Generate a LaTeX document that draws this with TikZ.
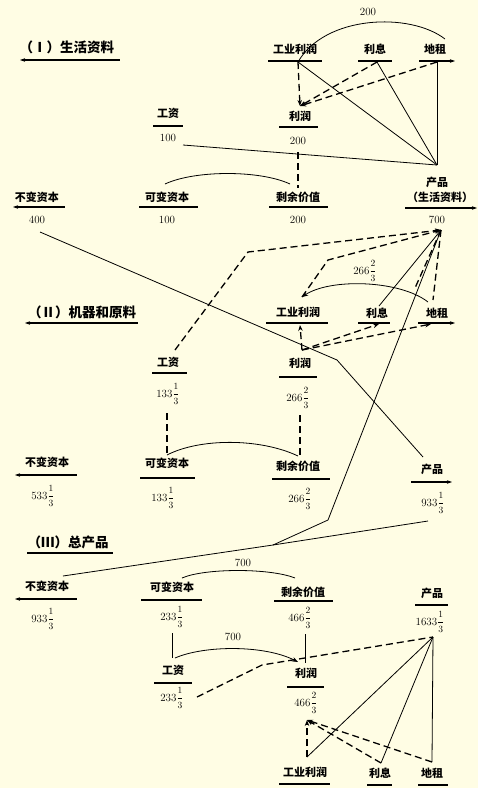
\documentclass[tikz,border=0pt]{standalone}
\usepackage{amsmath}
\usepackage{fontspec}
\newfontfamily\cjk{Noto Sans CJK SC}
\usetikzlibrary{arrows.meta}
\definecolor{paper}{RGB}{255,253,228}
\newcommand{\mixfr}[3]{#1$\genfrac{}{}{0.4pt}{0}{\text{\fontsize{9.5}{9.5}\selectfont #2}}{\text{\fontsize{9.5}{9.5}\selectfont #3}}$}

\begin{document}
\begin{tikzpicture}[x=1pt,y=-1pt,
    cn/.style={font=\cjk\bfseries\fontsize{11}{12}\selectfont,inner sep=1pt},
    num/.style={font=\fontsize{11}{12}\selectfont,inner sep=1pt},
    ttl/.style={font=\cjk\bfseries\fontsize{13.5}{15}\selectfont,inner sep=1pt},
    ul/.style={line width=1.4pt},
    ulleft/.style={ul,{Stealth[length=5pt,width=3.5pt]}-},
    ulright/.style={ul,-{Stealth[length=5pt,width=3.5pt]}},
    flow/.style={line width=0.8pt},
    dflow/.style={line width=1.3pt,dash pattern=on 7pt off 4pt},
    tip/.style={-{Stealth[length=6pt,width=4.5pt]}}]

  \fill[paper] (0,0) rectangle (478,788);
  \useasboundingbox (0,0) rectangle (478,788);

  % (I) 生活资料
  \node[ttl] (t1) at (67,47) {（Ⅰ）生活资料};
  \draw[ulleft] (20,60) -- (120,60);

  \node[cn] (Igew) at (295,49) {工业利润};
  \draw[ul] (268,61) -- (322,61);
  \node[cn] (Ilx) at (375,49) {利息};
  \draw[ul] (358,61) -- (392,61);
  \node[cn] (Idz) at (435,49) {地租};
  \draw[ulright] (419,61) -- (455,61);
  \node[num] (Iarc) at (368,12) {200};

  \node[cn] (Ilr) at (300,116) {利润};
  \draw[ul] (279,127) -- (318,127);
  \node[num] (Ilrv) at (298,141) {200};

  \node[cn] (Igz) at (168,113) {工资};
  \draw[ul] (153,126) -- (183,126);
  \node[num] (Igzv) at (168,138) {100};

  \node[cn] (Ibb) at (37,197) {不变资本};
  \draw[ulleft] (13,207) -- (65,207);
  \node[num] (Ibbv) at (37,220) {400};
  \node[cn] (Ikb) at (167,197) {可变资本};
  \draw[ul] (139,207) -- (198,207);
  \node[num] (Ikbv) at (167,220) {100};
  \node[cn] (Isy) at (298,197) {剩余价值};
  \draw[ul] (269,207) -- (328,207);
  \node[num] (Isyv) at (298,220) {200};
  \node[cn] (Icp) at (437,182) {产品};
  \node[cn] (Icp2) at (440,197) {（生活资料）};
  \draw[ulright] (405,208) -- (477,208);
  \node[num] (Icpv) at (437,220) {700};

  \coordinate (Ia) at (437,165);
  \coordinate (Igew-u) at (298,62);
  \coordinate (Ilx-u) at (377,62);
  \coordinate (Idz-u) at (437,62);
  \coordinate (Ilr-t) at (300,106);

  \draw[flow] (Igew-u) .. controls (325,15) and (410,12) .. (445,39);
  \draw[flow] (Ia) -- (Igew-u);
  \draw[flow] (Ia) -- (Ilx-u);
  \draw[flow] (Ia) -- (Idz-u);
  \draw[flow] (Ia) -- (183,145);
  \draw[dflow,tip] (Igew-u) -- (Ilr-t);
  \draw[dflow,tip] (Ilx-u) -- (Ilr-t);
  \draw[dflow,tip] (Idz-u) -- (Ilr-t);
  \draw[dflow] (298,152) -- (298,188);
  \draw[flow] (165,184) .. controls (195,170) and (260,170) .. (290,184);

  % (II) 机器和原料
  \node[ttl] (t2) at (82,312) {（Ⅱ）机器和原料};
  \draw[ulleft] (25,323) -- (138,323);

  \node[cn] (IIgew) at (298,312) {工业利润};
  \draw[ul] (266,323) -- (328,323);
  \node[cn] (IIlx) at (377,313) {利息};
  \draw[ul] (358,323) -- (390,323);
  \node[cn] (IIdz) at (437,313) {地租};
  \draw[ulright] (418,323) -- (455,323);
  \node[num] (IIarc) at (365,271) {\mixfr{266}{2}{3}};

  \node[cn] (IIgz) at (168,362) {工资};
  \draw[ul] (152,373) -- (187,373);
  \node[num] (IIgzv) at (168,394) {\mixfr{133}{1}{3}};
  \node[cn] (IIlr) at (300,363) {利润};
  \draw[ul] (279,377) -- (317,377);
  \node[num] (IIlrv) at (298,398) {\mixfr{266}{2}{3}};

  \node[cn] (IIbb) at (47,462) {不变资本};
  \draw[ulleft] (15,475) -- (77,475);
  \node[num] (IIbbv) at (43,496) {\mixfr{533}{1}{3}};
  \node[cn] (IIkb) at (167,463) {可变资本};
  \draw[ul] (140,478) -- (195,478);
  \node[num] (IIkbv) at (163,498) {\mixfr{133}{1}{3}};
  \node[cn] (IIsy) at (298,466) {剩余价值};
  \draw[ul] (272,479) -- (330,479);
  \node[num] (IIsyv) at (300,499) {\mixfr{266}{2}{3}};
  \node[cn] (IIcp) at (432,469) {产品};
  \draw[ulright] (411,482) -- (452,482);
  \node[num] (IIcpv) at (433,503) {\mixfr{933}{1}{3}};

  \coordinate (IIa) at (441,230);
  \coordinate (IIr) at (302,350);
  \coordinate (IIlx-t) at (379,306);
  \coordinate (IIdz-t) at (433,300);
  \coordinate (IIgew-t) at (302,297);
  \coordinate (IIstub) at (415,288);
  \coordinate (IIIjoin) at (273,545);

  \draw[dflow,tip] (175,350) -- (248,252) -- (IIa);
  \draw[dflow,tip] (IIgew-t) -- (328,260) -- (IIa);
  \draw[flow,tip] (428,302) .. controls (400,280) and (330,278) .. (IIgew-t);
  \draw[flow] (IIa) -- (IIlx-t);
  \draw[dflow] (IIa) -- (IIstub);
  \draw[dflow] (IIa) -- (IIdz-t);
  \draw[flow] (40,232) -- (337,360) -- (423,457);
  \draw[dflow,tip] (IIr) -- (300,325);
  \draw[dflow,tip] (IIr) -- (379,324);
  \draw[dflow,tip] (IIr) -- (431,324);
  \draw[flow] (IIa) -- (328,520) -- (IIIjoin);

  \draw[dflow] (167,413) -- (167,455);
  \draw[dflow] (300,415) -- (300,455);
  \draw[flow] (167,455) .. controls (200,438) and (260,438) .. (298,456);

  % (III) 总产品
  \node[ttl] (t3) at (68,542) {（Ⅲ）总产品};
  \draw[ul] (27,553) -- (113,553);
  \node[num] (IIIarc) at (243,563) {700};

  \draw[flow] (428,521) -- (IIIjoin) -- (63,576);
  \draw[flow] (182,578) .. controls (205,568) and (270,568) .. (295,578);

  \node[cn] (IIIbb) at (47,586) {不变资本};
  \draw[ulleft] (15,599) -- (77,599);
  \node[num] (IIIbbv) at (43,619) {\mixfr{933}{1}{3}};
  \node[cn] (IIIkb) at (172,587) {可变资本};
  \draw[ul] (141,600) -- (202,600);
  \node[num] (IIIkbv) at (172,617) {\mixfr{233}{1}{3}};
  \node[cn] (IIIsy) at (303,592) {剩余价值};
  \draw[ul] (274,601) -- (333,601);
  \node[num] (IIIsyv) at (300,618) {\mixfr{466}{2}{3}};
  \node[cn] (IIIcp) at (432,593) {产品};
  \draw[ul] (415,605) -- (448,605);
  \node[num] (IIIcpv) at (430,622) {\mixfr{1633}{1}{3}};

  \node[cn] (IIIgz) at (173,670) {工资};
  \draw[ul] (154,683) -- (192,683);
  \node[num] (IIIgzv) at (172,698) {\mixfr{233}{1}{3}};
  \node[cn] (IIIlr) at (306,673) {利润};
  \draw[ul] (287,687) -- (324,687);
  \node[num] (IIIlrv) at (306,703) {\mixfr{466}{2}{3}};
  \node[num] (IIIarc2) at (233,637) {700};

  \node[cn] (IIIgew) at (305,772) {工业利润};
  \draw[ul] (279,784) -- (330,784);
  \node[cn] (IIIlx) at (380,773) {利息};
  \draw[ul] (367,785) -- (392,785);
  \node[cn] (IIIdz) at (432,773) {地租};
  \draw[ul] (418,785) -- (448,785);

  \coordinate (IIIa) at (433,637);
  \coordinate (IIIr) at (307,720);
  \coordinate (IIIgew-t) at (307,757);
  \coordinate (IIIlx-t) at (381,763);
  \coordinate (IIIdz-t) at (432,762);

  \draw[flow] (172,633) -- (172,658);
  \draw[flow,tip] (175,658) .. controls (205,645) and (265,645) .. (298,662);
  \draw[flow] (305,634) -- (305,663);
  \draw[dflow] (197,697) -- (262,665) -- (IIIa);
  \draw[flow] (IIIa) -- (IIIgew-t);
  \draw[flow] (IIIa) -- (IIIlx-t);
  \draw[flow] (IIIa) -- (IIIdz-t);
  \draw[dflow,tip] (IIIgew-t) -- (IIIr);
  \draw[dflow,tip] (IIIlx-t) -- (IIIr);
  \draw[dflow,tip] (IIIdz-t) -- (IIIr);
\end{tikzpicture}
\end{document}
